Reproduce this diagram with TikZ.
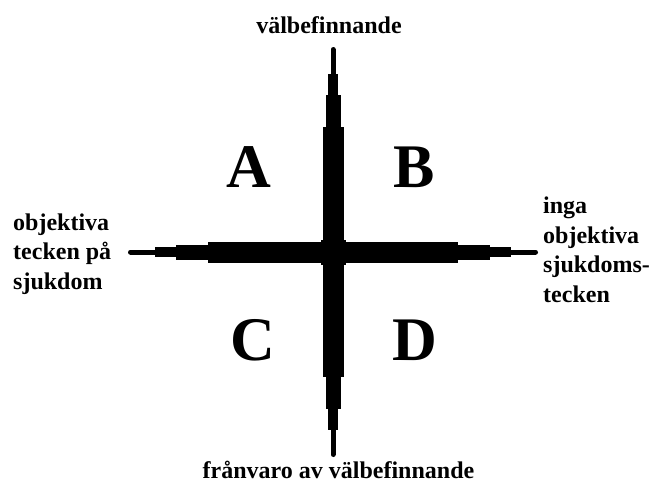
\documentclass[tikz,border=0pt]{standalone}
\usepackage{fontspec}
\setmainfont{Liberation Serif}
\usepackage{tikz}
\usetikzlibrary{positioning, calc}

\tikzset{
  axislabel/.style={font=\fontsize{24}{29.5}\selectfont\bfseries, inner sep=0pt},
  sidelabel/.style={axislabel, align=left, anchor=west},
  quadrant/.style={font=\fontsize{62}{70}\selectfont\bfseries, inner sep=0pt, anchor=base}
}

\begin{document}
\begin{tikzpicture}[x=1pt, y=-1pt]

  \useasboundingbox (0,0) rectangle (651,485);

  % --- Kors (fyra armar med avsmalnande spetsar) ---
  \coordinate (mitt) at (333,252);
  \foreach \ang in {0,90,180,270}{
    \begin{scope}[shift={(mitt)}, rotate=\ang]
      \fill[black] (0,-10.5) rectangle (125,10.5);
      \fill[black] (124,-7.5) rectangle (157,7.5);
      \fill[black] (156,-5) rectangle (178,5);
      \draw[black, line width=5pt, line cap=round] (177,0) -- (202.5,0);
    \end{scope}
  }
  \fill[black] ($(mitt)+(-12.5,-12.5)$) rectangle ($(mitt)+(12.5,12.5)$);

  % --- Axeltexter ---
  \node[axislabel, anchor=base] (topp) at (329,33) {välbefinnande};
  \node[axislabel, anchor=base] (botten) at (338.5,478) {frånvaro av välbefinnande};
  \node[sidelabel] (vanster) at (13,254) {objektiva\\tecken på\\sjukdom};
  \node[sidelabel] (hoger) at (543,250) {inga\\objektiva\\sjukdoms-\\tecken};

  % --- Kvadranter ---
  \node[quadrant] (A) at (249,187) {A};
  \node[quadrant] (B) at (414,187) {B};
  \node[quadrant] (C) at (253,360) {C};
  \node[quadrant] (D) at (415,360) {D};

\end{tikzpicture}
\end{document}
